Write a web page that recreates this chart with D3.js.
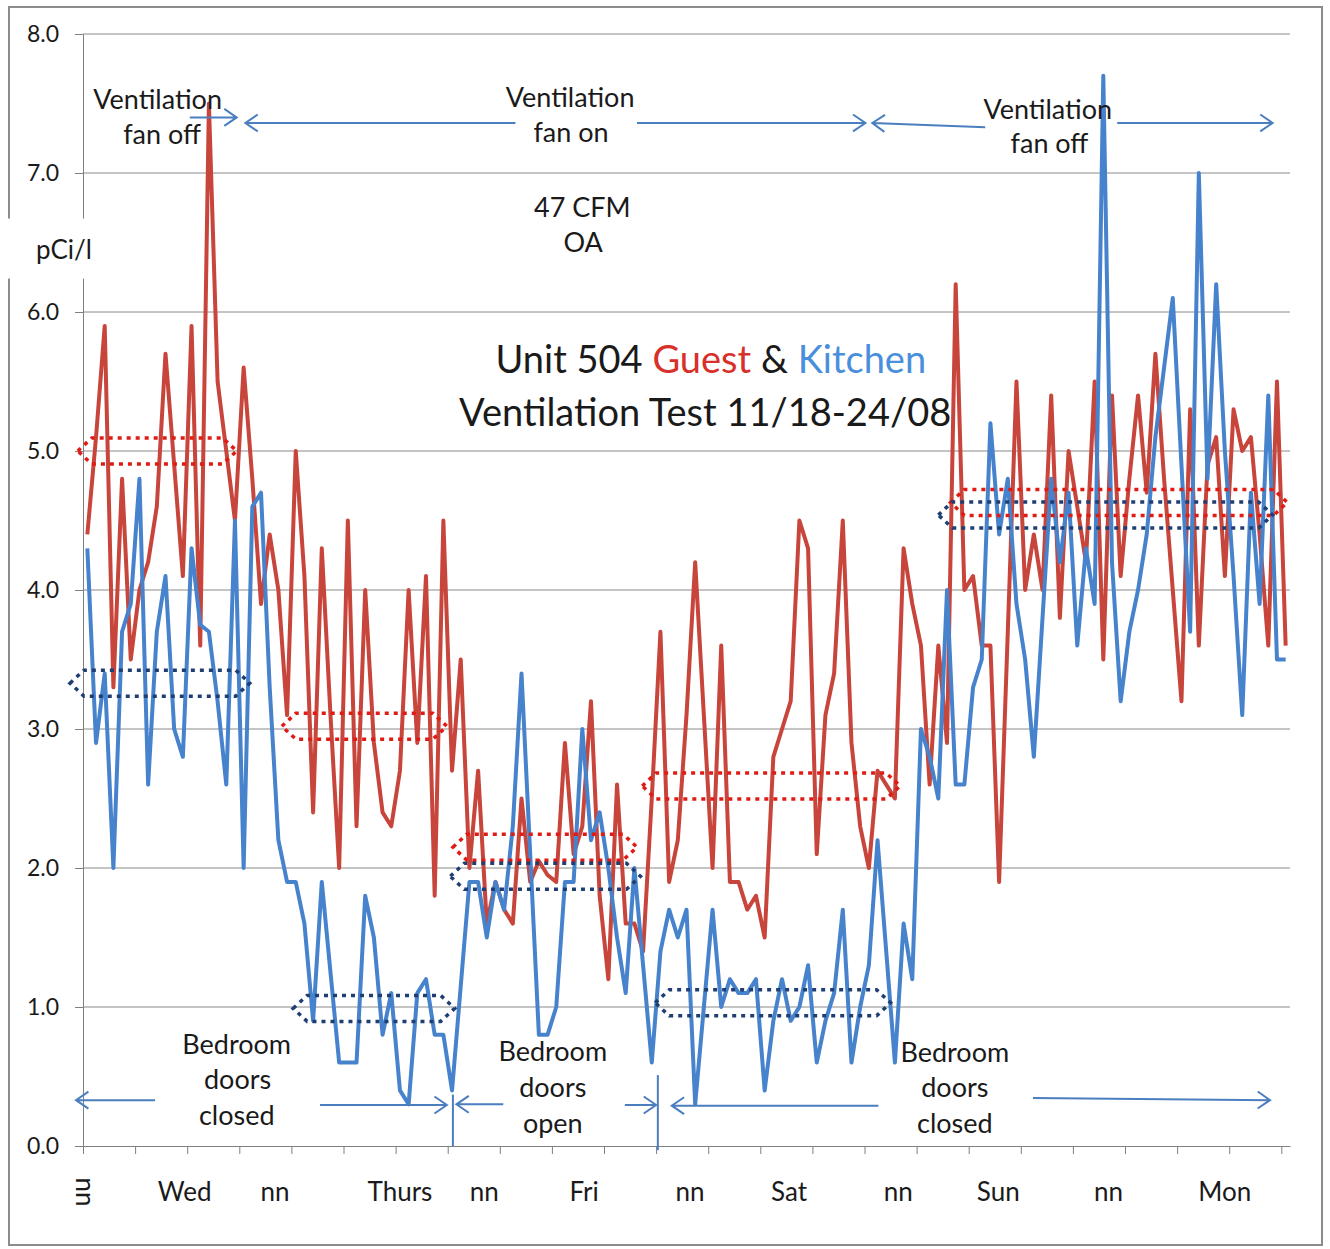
<!DOCTYPE html>
<html>
<head>
<meta charset="utf-8">
<script src="https://cdn.jsdelivr.net/npm/d3@7"></script>
<style>
  body { margin: 0; background: #fff; }
  text { font-family: Lato, "Open Sans", sans-serif; fill: #1a1a1a; }
  .axis path, .axis line { stroke: #7f7f7f; }
</style>
</head>
<body>
<svg id="chart" width="1330" height="1249"></svg>
<script>
// hourly readings, pCi/l (Unit 504, 11/18 - 11/24/08)
var guest = [4.4, 5.1, 5.9, 3.3, 4.8, 3.5, 4.0, 4.2, 4.6, 5.7,
  4.9, 4.1, 5.9, 3.6, 7.5, 5.5, 5.0, 4.5, 5.6, 4.8,
  3.9, 4.4, 4.0, 3.1, 5.0, 4.1, 2.4, 4.3, 3.1, 2.0,
  4.5, 2.3, 4.0, 2.9, 2.4, 2.3, 2.7, 4.0, 2.9, 4.1,
  1.8, 4.5, 2.7, 3.5, 2.0, 2.7, 1.6, 1.9, 1.7, 1.6,
  2.5, 1.9, 2.05, 1.95, 1.9, 2.9, 2.1, 2.3, 3.2, 1.8,
  1.2, 2.6, 1.6, 1.6, 1.4, 2.5, 3.7, 1.9, 2.2, 3.1,
  4.2, 3.1, 2.0, 3.6, 1.9, 1.9, 1.7, 1.8, 1.5, 2.8,
  3.0, 3.2, 4.5, 4.3, 2.1, 3.1, 3.4, 4.5, 2.9, 2.3,
  2.0, 2.7, 2.6, 2.5, 4.3, 3.9, 3.6, 2.6, 3.6, 2.9,
  6.2, 4.0, 4.1, 3.6, 3.6, 1.9, 3.7, 5.5, 4.0, 4.4,
  4.0, 5.4, 3.8, 5.0, 4.6, 4.2, 5.5, 3.5, 5.4, 4.1,
  4.8, 5.4, 4.7, 5.7, 4.8, 4.0, 3.2, 5.3, 3.6, 4.9,
  5.1, 4.1, 5.3, 5.0, 5.1, 4.4, 3.6, 5.5, 3.6];

var kitchen = [4.3, 2.9, 3.4, 2.0, 3.7, 3.9, 4.8, 2.6, 3.7, 4.1,
  3.0, 2.8, 4.3, 3.75, 3.7, 3.2, 2.6, 4.5, 2.0, 4.6,
  4.7, 3.3, 2.2, 1.9, 1.9, 1.6, 0.9, 1.9, 1.25, 0.6,
  0.6, 0.6, 1.8, 1.5, 0.8, 1.1, 0.4, 0.3, 1.1, 1.2,
  0.8, 0.8, 0.4, 1.15, 1.9, 1.9, 1.5, 1.9, 1.7, 2.3,
  3.4, 2.1, 0.8, 0.8, 1.0, 1.9, 1.9, 3.0, 2.2, 2.4,
  2.0, 1.5, 1.1, 2.0, 1.3, 0.6, 1.4, 1.7, 1.5, 1.7,
  0.3, 1.0, 1.7, 1.0, 1.2, 1.1, 1.1, 1.2, 0.4, 0.9,
  1.2, 0.9, 1.0, 1.3, 0.6, 0.9, 1.1, 1.7, 0.6, 1.0,
  1.3, 2.2, 1.4, 0.6, 1.6, 1.2, 3.0, 2.8, 2.5, 4.0,
  2.6, 2.6, 3.3, 3.5, 5.2, 4.4, 4.8, 3.9, 3.5, 2.8,
  3.8, 4.8, 4.2, 4.7, 3.6, 4.3, 3.9, 7.7, 4.2, 3.2,
  3.7, 4.0, 4.4, 5.1, 5.6, 6.1, 4.9, 3.7, 7.0, 4.8,
  6.2, 5.0, 4.1, 3.1, 4.7, 3.9, 5.4, 3.5, 3.5];

var yTicks = [0, 1, 2, 3, 4, 5, 6, 7, 8];
var dayLabels = ["nn", "Wed", "nn", "Thurs", "nn", "Fri", "nn", "Sat", "nn", "Sun", "nn", "Mon"];
var dayLabelAt = [-0.3, 11.2, 21.6, 36.0, 45.7, 57.2, 69.4, 80.8, 93.4, 104.9, 117.6, 131.0];

// dotted "average" loops: [from hour, to hour, level pCi/l]
var guestLoops = [[-1.1, 17.2, 5.0], [22.4, 41.4, 3.02], [42.1, 63.3, 2.15], [63.9, 93.6, 2.59], [99.4, 138.2, 4.63]];
var kitchenLoops = [[-2.0, 18.7, 3.33], [23.7, 42.3, 0.99], [41.8, 63.7, 1.94], [65.4, 92.5, 1.03], [98.0, 136.5, 4.54]];

// text notes in chart units: [hour, pCi/l, text]
var notes = [
  [8.1, 7.53, "Ventilation"], [8.6, 7.28, "fan off"],
  [55.6, 7.54, "Ventilation"], [55.7, 7.29, "fan on"],
  [110.6, 7.46, "Ventilation"], [110.8, 7.21, "fan off"],
  [57.0, 6.75, "47 CFM"], [57.1, 6.50, "OA"],
  [17.2, 0.73, "Bedroom"], [17.3, 0.475, "doors"], [17.2, 0.22, "closed"],
  [53.6, 0.68, "Bedroom"], [53.6, 0.42, "doors"], [53.6, 0.165, "open"],
  [99.9, 0.67, "Bedroom"], [99.9, 0.42, "doors"], [99.9, 0.16, "closed"]
];
// arrows: [from hour, from level, to hour, to level]
var arrows = [
  [11.8, 7.40, 17.2, 7.40], [49.3, 7.36, 18.2, 7.36], [63.3, 7.36, 89.6, 7.36],
  [103.4, 7.33, 90.4, 7.36], [118.6, 7.36, 136.5, 7.36],
  [7.8, 0.33, -1.3, 0.33], [26.8, 0.295, 41.4, 0.295], [47.9, 0.30, 42.5, 0.30],
  [61.9, 0.295, 65.5, 0.295], [91.1, 0.29, 67.3, 0.29], [108.9, 0.345, 136.2, 0.33]
];
var dividers = [[42.1, 0.37, 0.0], [65.7, 0.51, -0.03]];

var svg = d3.select("#chart");
var margin = {top: 34, left: 83},
    width = 1207,
    height = 1112;

// outer frame
svg.append("rect")
  .attr("x", 9).attr("y", 7)
  .attr("width", 1313).attr("height", 1238)
  .attr("fill", "none")
  .attr("stroke", "#8c8c8c")
  .attr("stroke-width", 2);

var g = svg.append("g").attr("transform", "translate(" + margin.left + "," + margin.top + ")");

var x = d3.scaleLinear().domain([-0.5, guest.length - 0.5]).range([0, width]);
var y = d3.scaleLinear().domain([0, 8]).range([height, 0]);

// gridlines
g.selectAll(".grid")
  .data(yTicks.filter(function(d) { return d > 0; }))
  .enter().append("line")
    .attr("class", "grid")
    .attr("x1", 0).attr("x2", width)
    .attr("y1", function(d) { return y(d); })
    .attr("y2", function(d) { return y(d); })
    .attr("stroke", "#8a8a8a")
    .attr("stroke-width", 1);

g.append("g")
  .attr("class", "axis")
  .call(d3.axisLeft(y).tickValues(yTicks).tickFormat(d3.format(".1f"))
        .tickSize(8).tickSizeOuter(0).tickPadding(16))
  .selectAll("text")
    .attr("font-size", 23)
    .style("font-family", "Lato, sans-serif")
    .attr("fill", "#1a1a1a");

g.append("g")
  .attr("class", "axis")
  .attr("transform", "translate(0," + height + ")")
  .call(d3.axisBottom(x).tickValues(d3.range(-0.5, guest.length - 1, 6))
        .tickFormat("").tickSize(8).tickSizeOuter(0));

// day labels under the axis
g.selectAll(".day")
  .data(dayLabels)
  .enter().append("text")
    .attr("class", "day")
    .attr("font-size", 26)
    .attr("text-anchor", "middle")
    .attr("dy", "0.35em")
    .attr("transform", function(d, i) {
      var t = "translate(" + x(dayLabelAt[i]) + "," + (height + 46) + ")";
      return i == 0 ? t + " rotate(90)" : t;
    })
    .text(function(d) { return d; });

// series
var line = d3.line()
  .x(function(d, i) { return x(i); })
  .y(function(d) { return y(d); });

g.append("path")
  .datum(guest)
  .attr("d", line)
  .attr("fill", "none")
  .attr("stroke", "#c8453c")
  .attr("stroke-width", 4)
  .attr("stroke-linejoin", "round");

g.append("path")
  .datum(kitchen)
  .attr("d", line)
  .attr("fill", "none")
  .attr("stroke", "#4683cc")
  .attr("stroke-width", 4)
  .attr("stroke-linejoin", "round");

// dotted loops
function loopPath(d) {
  var x0 = x(d[0]), x1 = x(d[1]), c = y(d[2]), h = 13, k = 14;
  return "M" + x0 + "," + c +
    "L" + (x0 + k) + "," + (c - h) + "L" + (x1 - k) + "," + (c - h) +
    "L" + x1 + "," + c +
    "L" + (x1 - k) + "," + (c + h) + "L" + (x0 + k) + "," + (c + h) + "Z";
}

g.selectAll(".loopG")
  .data(guestLoops)
  .enter().append("path")
    .attr("class", "loopG")
    .attr("d", loopPath)
    .attr("fill", "none")
    .attr("stroke", "#e01b14")
    .attr("stroke-width", 3.5)
    .attr("stroke-dasharray", "4,5");

g.selectAll(".loopK")
  .data(kitchenLoops)
  .enter().append("path")
    .attr("class", "loopK")
    .attr("d", loopPath)
    .attr("fill", "none")
    .attr("stroke", "#1f3f73")
    .attr("stroke-width", 3.5)
    .attr("stroke-dasharray", "4,5");

// arrows and dividers
function arrowPath(d) {
  var x1 = x(d[0]), y1 = y(d[1]), x2 = x(d[2]), y2 = y(d[3]);
  var a = Math.atan2(y2 - y1, x2 - x1), L = 15, w = 0.6;
  return "M" + x1 + "," + y1 + "L" + x2 + "," + y2 +
    "M" + (x2 - L * Math.cos(a - w)) + "," + (y2 - L * Math.sin(a - w)) +
    "L" + x2 + "," + y2 +
    "L" + (x2 - L * Math.cos(a + w)) + "," + (y2 - L * Math.sin(a + w));
}

g.selectAll(".arrow")
  .data(arrows)
  .enter().append("path")
    .attr("class", "arrow")
    .attr("d", arrowPath)
    .attr("fill", "none")
    .attr("stroke", "#4a7ebf")
    .attr("stroke-width", 2);

g.selectAll(".divider")
  .data(dividers)
  .enter().append("line")
    .attr("class", "divider")
    .attr("x1", function(d) { return x(d[0]); })
    .attr("x2", function(d) { return x(d[0]); })
    .attr("y1", function(d) { return y(d[1]); })
    .attr("y2", function(d) { return y(d[2]); })
    .attr("stroke", "#4a7ebf")
    .attr("stroke-width", 2);

// notes
g.selectAll(".note")
  .data(notes)
  .enter().append("text")
    .attr("class", "note")
    .attr("x", function(d) { return x(d[0]); })
    .attr("y", function(d) { return y(d[1]); })
    .attr("dy", "0.35em")
    .attr("text-anchor", "middle")
    .attr("font-size", 27)
    .text(function(d) { return d[2]; });

// y label on a white patch over the axis
var unitLabel = g.append("text")
  .attr("x", x(-2.7))
  .attr("y", y(6.45))
  .attr("dy", "0.35em")
  .attr("text-anchor", "middle")
  .attr("font-size", 26)
  .text("pCi/l");
var bb = unitLabel.node().getBBox();
g.insert("rect", function() { return unitLabel.node(); })
  .attr("x", bb.x - 28).attr("y", bb.y - 14)
  .attr("width", bb.width + 34).attr("height", bb.height + 28)
  .attr("fill", "#fff");

// title
var title = g.append("text")
  .attr("x", x(71.8))
  .attr("y", y(5.655))
  .attr("dy", "0.35em")
  .attr("text-anchor", "middle")
  .attr("font-size", 38);
title.append("tspan").text("Unit 504 ");
title.append("tspan").style("fill", "#d8302a").text("Guest");
title.append("tspan").text(" & ");
title.append("tspan").style("fill", "#4a8fdc").text("Kitchen");

g.append("text")
  .attr("x", x(71.15))
  .attr("y", y(5.273))
  .attr("dy", "0.35em")
  .attr("text-anchor", "middle")
  .attr("font-size", 38)
  .text("Ventilation Test 11/18-24/08");
</script>
</body>
</html>
